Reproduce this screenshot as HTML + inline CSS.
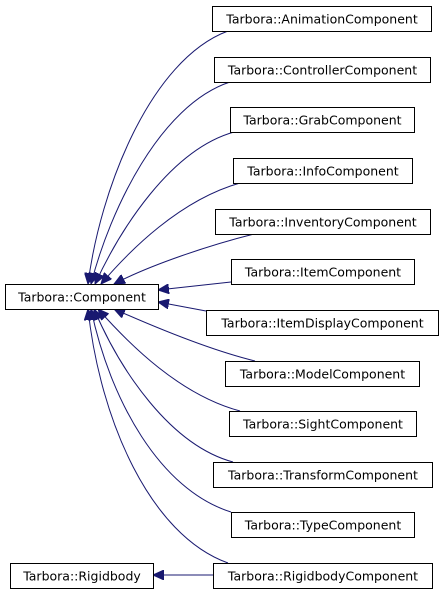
<!DOCTYPE html>
<html><head><meta charset="utf-8"><style>
html,body{margin:0;padding:0;background:#fff}
svg{display:block}
text{font-family:"DejaVu Sans","Liberation Sans",sans-serif;font-size:12.5px;fill:#000}
</style></head><body>
<svg width="444" height="595" viewBox="0 0 444 595" xmlns="http://www.w3.org/2000/svg">
<defs>
<marker id="a" markerWidth="12" markerHeight="10" refX="11" refY="5" orient="auto" markerUnits="userSpaceOnUse">
<path d="M0,0 L11,5 L0,10 Z" fill="#191970" stroke="#191970"/>
</marker>
</defs>
<g fill="none" stroke="#191970" stroke-width="1" marker-end="url(#a)">
<path d="M228,31 C150,60 100,190 88,284"/>
<path d="M230,82 C160,105 110,210 91,284"/>
<path d="M234,132 C170,150 120,230 95,284"/>
<path d="M240,183 C180,200 130,250 101,284"/>
<path d="M254,234 C210,245 150,265 114,284"/>
<path d="M231,282 L158,290"/>
<path d="M206,311 L158,302"/>
<path d="M255,361 C210,350 150,325 114,309"/>
<path d="M240,411 C180,395 130,345 98,309"/>
<path d="M233,462 C170,445 120,370 94,309"/>
<path d="M231,512 C160,490 110,400 91,309"/>
<path d="M228,563 C150,535 100,420 88,309"/>
<path d="M213,575 L153,575"/>
</g>
<g fill="#fff" stroke="#000" stroke-width="1">
<rect x="212.5" y="6.5" width="219" height="25"/>
<rect x="214.5" y="57.5" width="216" height="25"/>
<rect x="230.5" y="107.5" width="184" height="25"/>
<rect x="233.5" y="158.5" width="179" height="25"/>
<rect x="215.5" y="209.5" width="215" height="25"/>
<rect x="231.5" y="259.5" width="183" height="25"/>
<rect x="5.5" y="284.5" width="153" height="25"/>
<rect x="206.5" y="310.5" width="232" height="25"/>
<rect x="225.5" y="361.5" width="194" height="25"/>
<rect x="229.5" y="411.5" width="187" height="25"/>
<rect x="213.5" y="462.5" width="219" height="25"/>
<rect x="231.5" y="512.5" width="183" height="25"/>
<rect x="10.5" y="563.5" width="143" height="25"/>
<rect x="213.5" y="563.5" width="219" height="25"/>
</g>
<g text-anchor="middle">
<text x="322" y="23.5">Tarbora::AnimationComponent</text>
<text x="322.5" y="74.5">Tarbora::ControllerComponent</text>
<text x="322.5" y="124.5">Tarbora::GrabComponent</text>
<text x="323" y="175.5">Tarbora::InfoComponent</text>
<text x="323" y="226.5">Tarbora::InventoryComponent</text>
<text x="323" y="276.5">Tarbora::ItemComponent</text>
<text x="82" y="301.5">Tarbora::Component</text>
<text x="322.5" y="327.5">Tarbora::ItemDisplayComponent</text>
<text x="322.5" y="378.5">Tarbora::ModelComponent</text>
<text x="323" y="428.5">Tarbora::SightComponent</text>
<text x="323" y="479.5">Tarbora::TransformComponent</text>
<text x="323" y="529.5">Tarbora::TypeComponent</text>
<text x="82" y="580.5">Tarbora::Rigidbody</text>
<text x="323" y="580.5">Tarbora::RigidbodyComponent</text>
</g>
</svg>
</body></html>
